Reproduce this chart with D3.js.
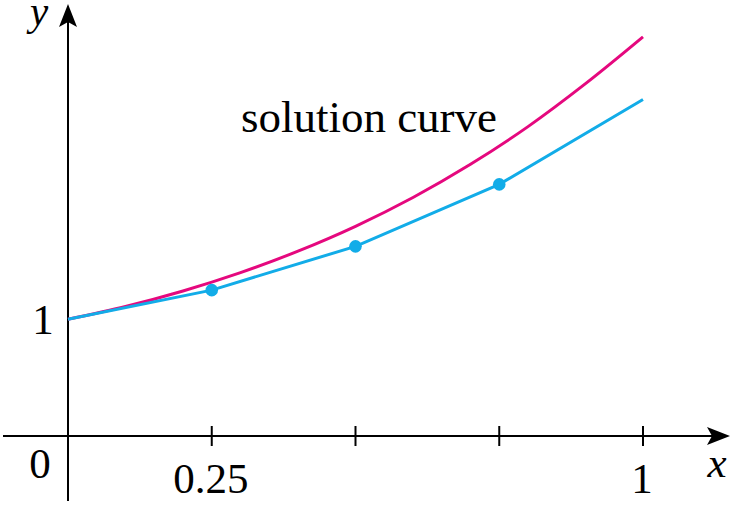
<!DOCTYPE html>
<html>
<head>
<meta charset="utf-8">
<script src="https://cdn.jsdelivr.net/npm/d3@7"></script>
<style>
  html, body { margin: 0; padding: 0; background: #fff; }
  svg { display: block; }
  text { font-family: "Liberation Serif", "Times New Roman", serif; fill: #000; }
</style>
</head>
<body>
<svg id="chart" width="733" height="505"></svg>
<script>
// Data
const eulerX = [0, 0.25, 0.5, 0.75, 1];
const eulerY = [1, 1.25, 1.625, 2.156, 2.883];
const solX = [0, 0.1, 0.2, 0.3, 0.4, 0.5, 0.6, 0.7, 0.8, 0.9, 1.0];
const solY = [1, 1.11, 1.243, 1.40, 1.584, 1.797, 2.044, 2.328, 2.651, 3.019, 3.42];
const xTicks = [0.25, 0.5, 0.75, 1];
const xTickLabels = ["0.25", "", "", "1"];
const yTickValues = [1];
const yTickLabels = ["1"];

const svg = d3.select("#chart");
const x = d3.scaleLinear().domain([0, 1]).range([68, 643]);
const y = d3.scaleLinear().domain([0, 1]).range([436, 319.3]);

const magenta = "#e5087e";
const cyan = "#12ace8";

// Axes
svg.append("line").attr("x1", 3).attr("x2", 712).attr("y1", y(0)).attr("y2", y(0))
  .attr("stroke", "#000").attr("stroke-width", 2);
svg.append("line").attr("x1", x(0)).attr("x2", x(0)).attr("y1", 501).attr("y2", 22)
  .attr("stroke", "#000").attr("stroke-width", 2);

// Arrowheads
const ax = 730, ay = y(0);
svg.append("path")
  .attr("d", `M${ax},${ay} L${ax - 23},${ay - 9} L${ax - 18},${ay} L${ax - 23},${ay + 9} Z`)
  .attr("fill", "#000");
const bx = x(0), by = 4;
svg.append("path")
  .attr("d", `M${bx},${by} L${bx - 9},${by + 23} L${bx},${by + 18} L${bx + 9},${by + 23} Z`)
  .attr("fill", "#000");

// x ticks
svg.selectAll("line.xtick").data(xTicks).enter().append("line")
  .attr("class", "xtick")
  .attr("x1", d => x(d)).attr("x2", d => x(d))
  .attr("y1", y(0) - 10).attr("y2", y(0) + 10)
  .attr("stroke", "#000").attr("stroke-width", 2);

svg.selectAll("text.xlab").data(xTicks).enter().append("text")
  .attr("class", "xlab")
  .attr("x", d => x(d) - 1).attr("y", 493)
  .attr("text-anchor", "middle").attr("font-size", 43)
  .text((d, i) => xTickLabels[i]);

svg.selectAll("text.ylab").data(yTickValues).enter().append("text")
  .attr("class", "ylab")
  .attr("x", 43).attr("y", d => y(d) + 15)
  .attr("text-anchor", "middle").attr("font-size", 43)
  .text((d, i) => yTickLabels[i]);

// origin label
svg.append("text").attr("x", 40).attr("y", 478).attr("text-anchor", "middle")
  .attr("font-size", 43).text("0");

// axis names
svg.append("text").attr("x", 717).attr("y", 477).attr("text-anchor", "middle")
  .attr("font-size", 43).attr("font-style", "italic").text("x");
svg.append("text").attr("x", 39).attr("y", 25).attr("text-anchor", "middle")
  .attr("font-size", 41).attr("font-style", "italic").text("y");

// Solution curve
const solData = solX.map((d, i) => [d, solY[i]]);
svg.append("path").datum(solData)
  .attr("d", d3.line().x(d => x(d[0])).y(d => y(d[1])).curve(d3.curveCatmullRom.alpha(0.5)))
  .attr("fill", "none").attr("stroke", magenta).attr("stroke-width", 3);

// Euler polygon
const eulerData = eulerX.map((d, i) => [d, eulerY[i]]);
svg.append("path").datum(eulerData)
  .attr("d", d3.line().x(d => x(d[0])).y(d => y(d[1])))
  .attr("fill", "none").attr("stroke", cyan).attr("stroke-width", 3);

svg.selectAll("circle.pt").data(eulerData.slice(1, 4)).enter().append("circle")
  .attr("class", "pt")
  .attr("cx", d => x(d[0])).attr("cy", d => y(d[1])).attr("r", 6.3)
  .attr("fill", cyan);

// Label
svg.append("text").attr("x", 241).attr("y", 132).attr("font-size", 44)
  .attr("textLength", 256).attr("lengthAdjust", "spacingAndGlyphs")
  .text("solution curve");
</script>
</body>
</html>
